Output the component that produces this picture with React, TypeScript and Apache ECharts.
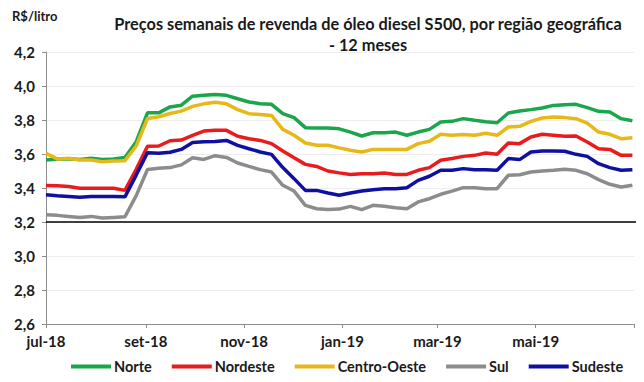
import React, { useEffect, useRef } from "react";
import * as echarts from "echarts";

const firstWeek = "2018-07-01";
const axisEnd = "2019-07-01";
const weekCount = 53;

const tickDates = ["2018-07-01", "2018-09-01", "2018-11-01", "2019-01-01", "2019-03-01", "2019-05-01"];
const tickLabels = ["jul-18", "set-18", "nov-18", "jan-19", "mar-19", "mai-19"];

const seriesNames = ["Norte", "Nordeste", "Centro-Oeste", "Sul", "Sudeste"];
const seriesColors = ["#1aa64b", "#e81c1c", "#e8b818", "#8c8c8c", "#1010a0"];

const norte = [
  3.565, 3.57, 3.572, 3.568, 3.575, 3.568, 3.57, 3.58, 3.672, 3.842, 3.842, 3.877, 3.887, 3.94,
  3.945, 3.95, 3.945, 3.925, 3.906, 3.896, 3.892, 3.837, 3.814, 3.755, 3.753, 3.753, 3.748,
  3.729, 3.706, 3.725, 3.725, 3.729, 3.71, 3.729, 3.745, 3.788, 3.792, 3.808, 3.798, 3.79,
  3.784, 3.841, 3.853, 3.861, 3.871, 3.886, 3.89, 3.892, 3.873, 3.851, 3.847, 3.808, 3.796,
];
const nordeste = [
  3.415, 3.413, 3.409, 3.399, 3.399, 3.399, 3.399, 3.386, 3.51, 3.646, 3.647, 3.678, 3.682, 3.71,
  3.735, 3.739, 3.739, 3.704, 3.69, 3.68, 3.661, 3.618, 3.578, 3.539, 3.527, 3.5, 3.489,
  3.48, 3.484, 3.484, 3.488, 3.48, 3.48, 3.504, 3.52, 3.563, 3.573, 3.586, 3.592, 3.606,
  3.598, 3.665, 3.661, 3.7, 3.716, 3.71, 3.704, 3.706, 3.671, 3.631, 3.627, 3.592, 3.592,
];
const centroOeste = [
  3.604, 3.571, 3.575, 3.565, 3.565, 3.555, 3.559, 3.561, 3.647, 3.809, 3.819, 3.838, 3.852, 3.88,
  3.895, 3.905, 3.895, 3.861, 3.837, 3.833, 3.827, 3.745, 3.71, 3.665, 3.652, 3.651, 3.636,
  3.622, 3.612, 3.627, 3.627, 3.627, 3.627, 3.661, 3.675, 3.716, 3.71, 3.714, 3.71, 3.722,
  3.71, 3.759, 3.763, 3.792, 3.812, 3.818, 3.814, 3.808, 3.782, 3.729, 3.716, 3.69, 3.696,
];
const sul = [
  3.243, 3.239, 3.233, 3.227, 3.233, 3.223, 3.227, 3.231, 3.355, 3.509, 3.516, 3.52, 3.536, 3.578,
  3.568, 3.59, 3.58, 3.547, 3.527, 3.508, 3.494, 3.416, 3.382, 3.298, 3.278, 3.273, 3.276,
  3.292, 3.273, 3.298, 3.292, 3.284, 3.278, 3.318, 3.337, 3.363, 3.382, 3.402, 3.402, 3.396,
  3.396, 3.475, 3.478, 3.494, 3.5, 3.504, 3.51, 3.504, 3.484, 3.449, 3.422, 3.406, 3.416,
];
const sudeste = [
  3.36, 3.354, 3.35, 3.346, 3.35, 3.35, 3.35, 3.348, 3.476, 3.608, 3.604, 3.61, 3.627, 3.668,
  3.672, 3.673, 3.68, 3.651, 3.631, 3.612, 3.598, 3.52, 3.455, 3.386, 3.386, 3.371, 3.357,
  3.371, 3.382, 3.39, 3.396, 3.396, 3.402, 3.445, 3.469, 3.504, 3.504, 3.514, 3.508, 3.508,
  3.504, 3.573, 3.567, 3.612, 3.618, 3.618, 3.616, 3.598, 3.586, 3.543, 3.52, 3.504, 3.508,
];

const yMin = 2.6;
const yMax = 4.2;
const yStep = 0.2;
const referenceLevel = 3.2;

const DAY = 86400000;
const dayOf = (d: string) => Math.round((Date.parse(d) - Date.parse(firstWeek)) / DAY);
const weekDays = Array.from({ length: weekCount }, (_, i) => i * 7);
const tickDays = tickDates.map(dayOf);
const endDay = dayOf(axisEnd);

const FONT = "Lato, 'Noto Sans', sans-serif";

export default function App() {
  const ref = useRef<HTMLDivElement>(null);
  useEffect(() => {
    if (!ref.current) return;
    const chart = echarts.init(ref.current, undefined, { renderer: "svg" });
    const allValues = [norte, nordeste, centroOeste, sul, sudeste];
    const option: any = {
      animation: false,
      backgroundColor: "#ffffff",
      textStyle: { fontFamily: FONT },
      title: [
        {
          text: "Preços semanais de revenda de óleo diesel S500, por região geográfica\n- 12 meses",
          left: 363,
          top: 8,
          textAlign: "center",
          textStyle: { fontFamily: FONT, fontSize: 16.3, fontWeight: "bold", color: "#1a1a1a", lineHeight: 21 },
        },
        {
          text: "R$/litro",
          left: 7,
          top: 4,
          textStyle: { fontFamily: FONT, fontSize: 13, fontWeight: "bold", color: "#1a1a1a" },
        },
      ],
      legend: {
        left: 66,
        top: 354,
        icon: "rect",
        itemWidth: 40,
        itemHeight: 4,
        itemGap: 20,
        textStyle: { fontFamily: FONT, fontSize: 14.5, fontWeight: "bold", color: "#1a1a1a", padding: [0, 0, 0, -2] },
        data: seriesNames,
      },
      grid: { left: 46, right: 10, top: 52, bottom: 58, containLabel: false, outerBoundsMode: "none" },
      xAxis: {
        type: "value",
        min: 0,
        max: endDay,
        splitLine: { show: false },
        axisLine: { lineStyle: { color: "#8c8c8c", width: 1 } },
        axisTick: { show: true, length: 4, customValues: [...tickDays, endDay], lineStyle: { color: "#8c8c8c" } },
        axisLabel: {
          customValues: tickDays,
          margin: 9,
          fontFamily: FONT,
          fontSize: 15,
          fontWeight: "bold",
          color: "#1a1a1a",
          formatter: (v: number) => {
            const k = tickDays.indexOf(Math.round(v));
            return k >= 0 ? tickLabels[k] : "";
          },
        },
      },
      yAxis: {
        type: "value",
        min: yMin,
        max: yMax,
        interval: yStep,
        axisLine: { show: true, lineStyle: { color: "#8c8c8c", width: 1 } },
        axisTick: { show: true, length: 4, lineStyle: { color: "#8c8c8c" } },
        splitLine: { lineStyle: { color: "#ededed", width: 1 } },
        axisLabel: {
          margin: 11,
          fontFamily: FONT,
          fontSize: 15,
          fontWeight: "bold",
          color: "#1a1a1a",
          formatter: (v: number) => v.toFixed(1).replace(".", ","),
        },
      },
      series: seriesNames.map((name, si) => ({
        name,
        type: "line",
        showSymbol: false,
        symbol: "none",
        color: seriesColors[si],
        lineStyle: { width: 3.5, color: seriesColors[si] },
        data: weekDays.map((d, i) => [d, allValues[si][i]]),
        z: 3,
      })),
    };
    chart.setOption(option);
    const left = chart.convertToPixel({ xAxisIndex: 0 }, 0) as number;
    const yRef = chart.convertToPixel({ yAxisIndex: 0 }, referenceLevel) as number;
    chart.setOption({
      graphic: [
        {
          type: "line",
          shape: { x1: left, y1: yRef, x2: chart.getWidth(), y2: yRef },
          style: { stroke: "#000000", lineWidth: 1.5 },
          z: 2,
          silent: true,
        },
      ],
    });
    return () => chart.dispose();
  }, []);
  return <div ref={ref} style={{ width: 644, height: 382, margin: -8 }} />;
}
